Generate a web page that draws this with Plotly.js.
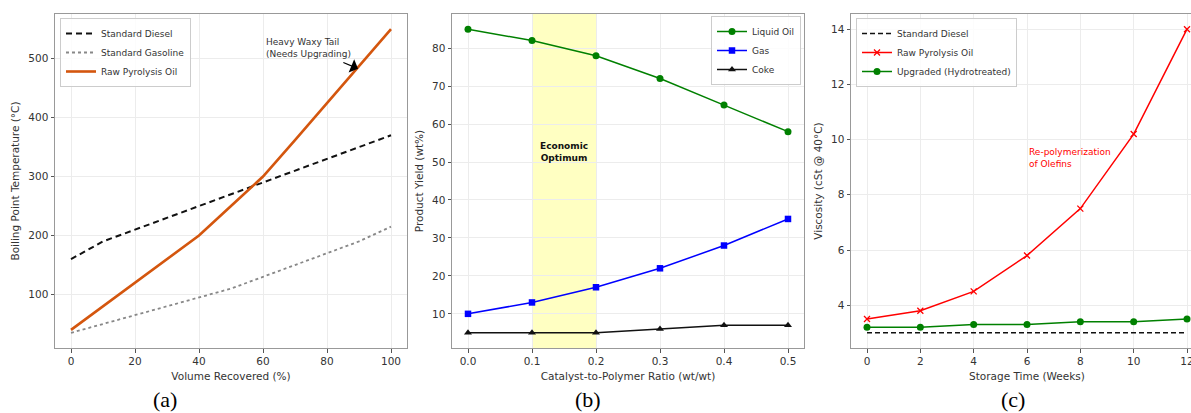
<!DOCTYPE html>
<html>
<head>
<meta charset="utf-8">
<script src="https://cdn.plot.ly/plotly-3.0.1.min.js"></script>
<style>
html, body { margin:0; padding:0; overflow:hidden; background:#fff; width:1191px; height:413px; }
#chart { width:1205px; height:413px; }
</style>
</head>
<body>
<div id="chart"></div>
<script>
// ---- Panel (a): distillation curves ----
const volRecovered = [0, 10, 20, 30, 40, 50, 60, 70, 80, 90, 100];
const dieselBP     = [160, 190, 210, 230, 250, 270, 290, 310, 330, 350, 370];
const gasolineBP   = [35, 50, 65, 80, 95, 110, 130, 150, 170, 190, 215];
const pyroBP       = [40, 80, 120, 160, 200, 250, 300, 362, 425, 487, 550];

// ---- Panel (b): product yields ----
const catRatio   = [0.0, 0.1, 0.2, 0.3, 0.4, 0.5];
const liquidOil  = [85, 82, 78, 72, 65, 58];
const gasYield   = [10, 13, 17, 22, 28, 35];
const cokeYield  = [5, 5, 5, 6, 7, 7];
const optimumBand = [0.1, 0.2];

// ---- Panel (c): viscosity during storage ----
const weeks        = [0, 2, 4, 6, 8, 10, 12];
const dieselVisc   = [3.0, 3.0, 3.0, 3.0, 3.0, 3.0, 3.0];
const rawVisc      = [3.5, 3.8, 4.5, 5.8, 7.5, 10.2, 14.0];
const upgradedVisc = [3.2, 3.2, 3.3, 3.3, 3.4, 3.4, 3.5];

const W = 1205, H = 413;
const px = v => v / W;
const py = v => (H - v) / H;

const FONT = 'DejaVu Sans, sans-serif';
const TXT = '#333';

function axisBase(extra) {
  return Object.assign({
    showline: true, mirror: true, linecolor: '#999', linewidth: 1,
    ticks: 'outside', ticklen: 3.5, tickcolor: '#555', tickwidth: 1,
    showgrid: true, gridcolor: '#ececec', gridwidth: 1,
    zeroline: false, automargin: false,
    tickfont: {family: FONT, size: 10.5, color: TXT},
    title: {font: {family: FONT, size: 10.5, color: TXT}}
  }, extra);
}

const traces = [
  // panel a
  {x: volRecovered, y: dieselBP, name: 'Standard Diesel', mode: 'lines', xaxis: 'x', yaxis: 'y', legend: 'legend',
   line: {color: '#111', width: 2, dash: '6px,4px'}},
  {x: volRecovered, y: gasolineBP, name: 'Standard Gasoline', mode: 'lines', xaxis: 'x', yaxis: 'y', legend: 'legend',
   line: {color: '#888', width: 1.8, dash: 'dot'}},
  {x: volRecovered, y: pyroBP, name: 'Raw Pyrolysis Oil', mode: 'lines', xaxis: 'x', yaxis: 'y', legend: 'legend',
   line: {color: '#d4560e', width: 2.6}},
  // panel b
  {x: catRatio, y: liquidOil, name: 'Liquid Oil', mode: 'lines+markers', xaxis: 'x2', yaxis: 'y2', legend: 'legend2',
   line: {color: 'green', width: 1.5}, marker: {symbol: 'circle', size: 7, color: 'green'}},
  {x: catRatio, y: gasYield, name: 'Gas', mode: 'lines+markers', xaxis: 'x2', yaxis: 'y2', legend: 'legend2',
   line: {color: 'blue', width: 1.5}, marker: {symbol: 'square', size: 6.5, color: 'blue'}},
  {x: catRatio, y: cokeYield, name: 'Coke', mode: 'lines+markers', xaxis: 'x2', yaxis: 'y2', legend: 'legend2',
   line: {color: '#111', width: 1.5}, marker: {symbol: 'triangle-up', size: 7, color: '#111'}},
  // panel c
  {x: weeks, y: dieselVisc, name: 'Standard Diesel', mode: 'lines', xaxis: 'x3', yaxis: 'y3', legend: 'legend3',
   line: {color: '#111', width: 1.5, dash: '5px,3px'}},
  {x: weeks, y: rawVisc, name: 'Raw Pyrolysis Oil', mode: 'lines+markers', xaxis: 'x3', yaxis: 'y3', legend: 'legend3',
   line: {color: 'red', width: 1.5}, marker: {symbol: 'x-thin', size: 6, color: 'red', line: {color: 'red', width: 1.3}}},
  {x: weeks, y: upgradedVisc, name: 'Upgraded (Hydrotreated)', mode: 'lines+markers', xaxis: 'x3', yaxis: 'y3', legend: 'legend3',
   line: {color: 'green', width: 1.5}, marker: {symbol: 'circle', size: 7, color: 'green'}}
];

const legendBase = {
  bgcolor: 'rgba(255,255,255,0.85)', bordercolor: '#ccc', borderwidth: 1,
  font: {family: FONT, size: 9, color: TXT}, yanchor: 'top', itemwidth: 30, tracegroupgap: 0
};

const layout = {
  width: W, height: H,
  margin: {l: 0, r: 0, t: 0, b: 0},
  paper_bgcolor: '#fff', plot_bgcolor: '#fff',
  showlegend: true,
  font: {family: FONT, color: TXT},
  xaxis: axisBase({domain: [px(55), px(407)], anchor: 'y', range: [-5, 105], dtick: 20, tick0: 0,
    title: {text: 'Volume Recovered (%)', font: {family: FONT, size: 10.5, color: TXT}, standoff: 6}}),
  yaxis: axisBase({domain: [py(348), py(14)], anchor: 'x', range: [9.25, 575.75], dtick: 100, tick0: 0,
    title: {text: 'Boiling Point Temperature (°C)', font: {family: FONT, size: 10.5, color: TXT}, standoff: 6}}),
  xaxis2: axisBase({domain: [px(452), px(804)], anchor: 'y2', range: [-0.025, 0.525], dtick: 0.1, tick0: 0, tickformat: '.1f',
    title: {text: 'Catalyst-to-Polymer Ratio (wt/wt)', font: {family: FONT, size: 10.5, color: TXT}, standoff: 6}}),
  yaxis2: axisBase({domain: [py(348), py(14)], anchor: 'x2', range: [1, 89], dtick: 10, tick0: 0,
    title: {text: 'Product Yield (wt%)', font: {family: FONT, size: 10.5, color: TXT}, standoff: 6}}),
  xaxis3: axisBase({domain: [px(851), px(1203)], anchor: 'y3', range: [-0.6, 12.6], dtick: 2, tick0: 0,
    title: {text: 'Storage Time (Weeks)', font: {family: FONT, size: 10.5, color: TXT}, standoff: 6}}),
  yaxis3: axisBase({domain: [py(348), py(14)], anchor: 'x3', range: [2.45, 14.55], dtick: 2, tick0: 0,
    title: {text: 'Viscosity (cSt @ 40°C)', font: {family: FONT, size: 10.5, color: TXT}, standoff: 6}}),
  legend: Object.assign({}, legendBase, {x: px(60), xanchor: 'left', y: py(18)}),
  legend2: Object.assign({}, legendBase, {x: px(801), xanchor: 'right', y: py(16)}),
  legend3: Object.assign({}, legendBase, {x: px(856), xanchor: 'left', y: py(18)}),
  shapes: [
    {type: 'rect', xref: 'x2', yref: 'y2 domain', x0: optimumBand[0], x1: optimumBand[1], y0: 0, y1: 1,
     fillcolor: 'rgba(255,255,120,0.45)', line: {width: 0}, layer: 'below'}
  ],
  annotations: [
    {xref: 'x', yref: 'y', x: 89.7, y: 483, ax: -50, ay: -21, axref: 'pixel', ayref: 'pixel',
     text: 'Heavy Waxy Tail<br>(Needs Upgrading)', align: 'left', showarrow: true,
     arrowhead: 1, arrowsize: 2, arrowwidth: 1.2, arrowcolor: '#000', standoff: 0, startstandoff: 6,
     font: {family: FONT, size: 9, color: TXT}},
    {xref: 'x2', yref: 'y2', x: 0.15, y: 52.6, showarrow: false,
     text: '<b>Economic<br>Optimum</b>', align: 'center',
     font: {family: FONT, size: 9, color: '#111'}},
    {xref: 'x3', yref: 'y3', x: 6.0, y: 9.33, xanchor: 'left', showarrow: false,
     text: 'Re-polymerization<br>of Olefins', align: 'left',
     font: {family: FONT, size: 9, color: 'red'}},
    {xref: 'paper', yref: 'paper', x: px(165), y: py(399), xanchor: 'center', yanchor: 'middle', showarrow: false,
     text: '(a)', font: {family: 'Liberation Serif, Times New Roman, serif', size: 22, color: '#000'}},
    {xref: 'paper', yref: 'paper', x: px(588), y: py(399), xanchor: 'center', yanchor: 'middle', showarrow: false,
     text: '(b)', font: {family: 'Liberation Serif, Times New Roman, serif', size: 22, color: '#000'}},
    {xref: 'paper', yref: 'paper', x: px(1013), y: py(399), xanchor: 'center', yanchor: 'middle', showarrow: false,
     text: '(c)', font: {family: 'Liberation Serif, Times New Roman, serif', size: 22, color: '#000'}}
  ]
};

Plotly.newPlot('chart', traces, layout, {displayModeBar: false, staticPlot: true});
</script>
</body>
</html>
